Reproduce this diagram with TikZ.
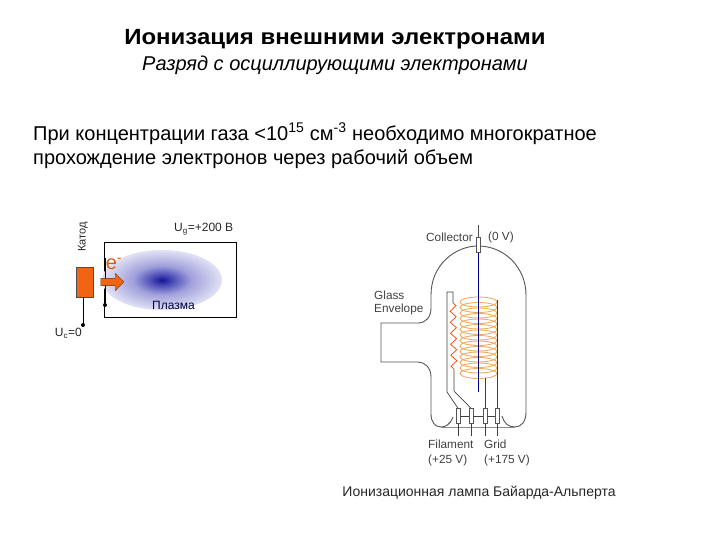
\documentclass[tikz,border=0pt]{standalone}
\usepackage{fontspec}
\setmainfont{Liberation Sans}
\usetikzlibrary{positioning,arrows.meta,calc,shapes.geometric,shapes.arrows,decorations.pathmorphing}
\definecolor{coilorange}{RGB}{240,170,95}
\definecolor{catorange}{RGB}{240,100,20}
\definecolor{glassgray}{RGB}{85,85,85}
\definecolor{plasmaa}{RGB}{20,20,150}
\definecolor{plasmab}{RGB}{70,70,180}
\definecolor{plasmac}{RGB}{160,160,220}
\definecolor{plasmad}{RGB}{226,226,244}
\pgfdeclareradialshading{plasmashade}{\pgfpoint{0bp}{0bp}}{%
  color(0bp)=(plasmaa);
  color(4bp)=(plasmab);
  color(12bp)=(plasmac);
  color(25bp)=(plasmad);
  color(50bp)=(plasmad)}

\begin{document}
\begin{tikzpicture}[
    x=1pt, y=-1pt,
    titletext/.style={font=\fontsize{22}{26}\selectfont\bfseries, xscale=1.09, anchor=center},
    subtext/.style={font=\fontsize{20}{24}\selectfont\itshape, anchor=center},
    bodytext/.style={font=\fontsize{20}{24}\selectfont, align=left, anchor=north west, inner sep=0pt},
    smalltext/.style={font=\fontsize{12}{14}\selectfont, text=black!85, inner sep=0pt},
    lamptext/.style={font=\fontsize{11.8}{14.5}\selectfont, text=black!75, align=left, inner sep=0pt},
    pin/.style={draw=glassgray, fill=white, minimum width=4pt, minimum height=15pt, inner sep=0pt},
    dot/.style={circle, fill=black, minimum size=4pt, inner sep=0pt},
    wire/.style={draw=black!75, line width=0.7pt},
    glass/.style={draw=glassgray, line width=0.9pt, rounded corners=0pt}
]
\useasboundingbox (0,0) rectangle (720,540);

% ---- Heading ----
\node[titletext] (title) at (335,39) {Ионизация внешними электронами};
\node[subtext] (subtitle) at (335,65) {Разряд с осциллирующими электронами};
\node[bodytext] (body) at (33,123)
    {При концентрации газа <10\textsuperscript{15} см\textsuperscript{-3} необходимо многократное\\
     прохождение электронов через рабочий объем};

% ---- Plasma chamber ----
\node[draw=black, line width=0.8pt, minimum width=132pt, minimum height=75pt, inner sep=0pt] (chamber) at (170,279.5) {};
\path[shading=plasmashade] (162,280) ellipse [x radius=60, y radius=30];
\node[smalltext, font=\fontsize{11}{13}\selectfont, rotate=90] (katod) at (83,237) {Катод};
\node[smalltext, anchor=west] (ug) at (174,229) {U\textsubscript{g}=+200 В};
\node[smalltext, text=black!75!blue] (plasma) at (173.5,305) {Плазма};
\node[draw=black!70, fill=catorange, minimum width=17pt, minimum height=30pt, inner sep=0pt] (cathode) at (84.5,282) {};
\node[dot] (cdot) at (83,325) {};
\node[smalltext, anchor=east] (uc) at (82,333) {U\textsubscript{c}=0};
\coordinate (gridtop) at (105,258);
\node[dot] (gdot) at (105,305) {};
\draw[line width=1pt] (gridtop) -- (gdot);
\draw[line width=0.8pt] (83,297) -- (cdot);
\node[single arrow, draw=black!60!orange, fill=catorange, minimum height=23pt, minimum width=17pt,
    single arrow head extend=3pt, inner sep=2pt] (earrow) at (110.5,282) {};
\node[font=\fontsize{20}{20}\selectfont\rmfamily, text=catorange!90!black, inner sep=0pt] (elec) at (114,264) {e\textsuperscript{-}};

% ---- Lamp envelope ----
\draw[glass] (453,417) .. controls (450,425) and (445,427) .. (441,427)
    .. controls (435,427) and (431,422) .. (431,414) -- (431,377)
    .. controls (431,368) and (425,362) .. (418,362) -- (381,362) -- (381,323) -- (418,323)
    .. controls (426,323) and (431,317) .. (431,308) -- (431,295)
    .. controls (431,265) and (455,246) .. (478,246)
    .. controls (505,246) and (526,268) .. (526,295) -- (526,412)
    .. controls (526,422) and (521,427) .. (515,427)
    .. controls (508,427) and (504,423) .. (502,416);
\draw[draw=black!45, line width=0.7pt] (441,427) -- (515,427);

% ---- Grid coil ----
\foreach \yy in {302,307.5,...,374}
    \draw[coilorange, line width=0.9pt] (478.5,\yy) ellipse [x radius=18.5, y radius=5];

% ---- Pins and wires ----
\node[pin] (pina) at (458,416) {};
\node[pin] (pinb) at (471,416) {};
\node[pin] (pinc) at (485,416) {};
\node[pin] (pind) at (497,416) {};
\node[pin] (pine) at (478,245) {};
\coordinate (leada) at (458,436);
\coordinate (leadb) at (471,436);
\coordinate (leadc) at (485,436);
\coordinate (leadd) at (497,436);
\foreach \pn/\ld in {pina/leada,pinb/leadb,pinc/leadc,pind/leadd}
    \draw[wire] (\pn.south) -- (\ld);
\draw[wire] (pina) -- (pinb);
\draw[wire] (pinb) -- (pinc);
\draw[wire] (pinc) -- (pind);
\draw[wire] (pina.north) -- (447,392) -- (447,292) -- (453,292) -- (453,303);
\draw[wire] (pinb.north) -- (454,391) -- (454,370);
\draw[wire] (pinc.north) -- (485,378);
\draw[wire] (pind.north) -- (497,300);
\draw[draw=red!50!orange, line width=0.7pt, decorate,
    decoration={zigzag, segment length=11pt, amplitude=3pt}] (453,303) -- (454,370);

% ---- Collector wire ----
\coordinate (coltop) at (478,225);
\coordinate (colend) at (478,392);
\draw[draw=black!70, line width=0.7pt] (coltop) -- (pine.north);
\draw[draw=blue!55!black, line width=0.9pt] (pine.south) -- (colend);

% ---- Lamp labels ----
\node[lamptext, anchor=west] (collector) at (426,237) {Collector};
\node[lamptext, anchor=west] (volt) at (488,237) {(0 V)};
\node[lamptext, anchor=west] (envelope) at (374,303) {Glass\\[-1pt]Envelope};
\node[lamptext, anchor=north west] (filament) at (428,440) {Filament\\(+25 V)};
\node[lamptext, anchor=north west] (grid) at (484,440) {Grid\\(+175 V)};
\node[font=\fontsize{14}{16}\selectfont, text=black!85, inner sep=0pt] (caption) at (479,493) {Ионизационная лампа Байарда-Альперта};
\end{tikzpicture}
\end{document}
